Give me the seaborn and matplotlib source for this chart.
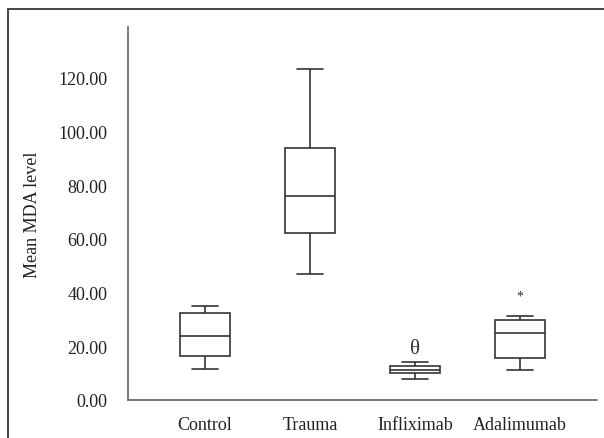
import pandas as pd
import matplotlib.pyplot as plt
import seaborn as sns
from matplotlib.patches import Rectangle

# Five-number summaries (min, Q1, median, Q3, max)
groups = ['Control', 'Trauma', 'Infliximab', 'Adalimumab']
control = [11.6, 16.4, 23.7, 32.2, 35.1]
trauma = [47.0, 62.3, 76.0, 93.9, 123.3]
infliximab = [7.7, 9.9, 11.2, 12.7, 14.0]
adalimumab = [11.1, 15.4, 25.0, 29.6, 31.1]
yticks = [0, 20, 40, 60, 80, 100, 120]

# significance marks above boxes
marks = ['', '', 'θ', '*']
mark_y = [None, None, 19.2, 38.8]

df = pd.DataFrame({
    'group': [g for g, v in zip(groups, [control, trauma, infliximab, adalimumab]) for _ in v],
    'value': control + trauma + infliximab + adalimumab,
})

sns.set_style('white')
plt.rcParams['font.family'] = ['Liberation Serif', 'DejaVu Serif']

fig = plt.figure(figsize=(6.04, 4.39), dpi=100)
ax = fig.add_axes([0.212, 0.0872, 0.776, 0.849])

sns.boxplot(data=df, x='group', y='value', order=groups, width=0.48,
            color='white', linecolor='#333333', linewidth=1.2, whis=1.5,
            fliersize=0, ax=ax)

for i, (m, y) in enumerate(zip(marks, mark_y)):
    if m == 'θ':
        ax.text(i, y, m, ha='center', va='center', fontsize=15, color='#333333')
    elif m:
        ax.text(i, y, m, ha='center', va='center', fontsize=10, color='#333333')

ax.set_xlim(-0.733, 3.73)
ax.set_ylim(0, 139)
ax.set_yticks(yticks)
ax.set_yticklabels([f'{t:.2f}' for t in yticks])
ax.set_xlabel('')
ax.set_ylabel('Mean MDA level', fontsize=13, labelpad=12, color='#222222')

for s in ['top', 'right']:
    ax.spines[s].set_visible(False)
for s in ['left', 'bottom']:
    ax.spines[s].set_color('#555555')
    ax.spines[s].set_linewidth(1.1)

ax.tick_params(axis='both', direction='out', length=5, width=1.1, color='#555555',
               labelsize=13, labelcolor='#222222')
ax.tick_params(axis='y', pad=10)
ax.tick_params(axis='x', pad=7)

# outer frame of the figure panel
fig.add_artist(Rectangle((8 / 604, -0.1), 1.2, 1.1 - 10 / 439, transform=fig.transFigure,
                         fill=False, edgecolor='#444444', linewidth=1.4))

fig.savefig('out.png', dpi=100)
